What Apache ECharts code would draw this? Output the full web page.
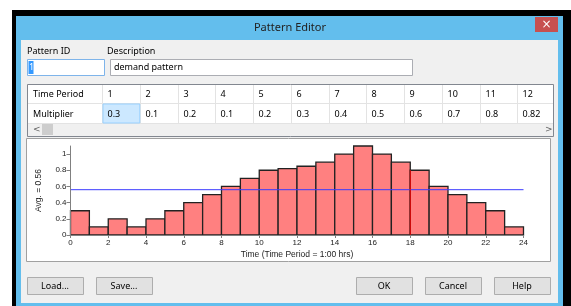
<!DOCTYPE html>
<html>
<head>
<meta charset="utf-8">
<script src="https://cdn.jsdelivr.net/npm/echarts@6/dist/echarts.min.js"></script>
<style>
    html, body { margin: 0; padding: 0; background: #fff; }
    #main { width: 571px; height: 306px; }
</style>
</head>
<body>
<div id="main"></div>
<script>
// pattern multipliers, one per hour (period 1..24)
const multipliers = [0.3, 0.1, 0.2, 0.1, 0.2, 0.3, 0.4, 0.5, 0.6, 0.7, 0.8, 0.82,
    0.85, 0.9, 1.0, 1.1, 1.0, 0.9, 0.8, 0.6, 0.5, 0.4, 0.3, 0.1];
// periods visible in the grid
const visiblePeriods = ['1', '2', '3', '4', '5', '6', '7', '8', '9', '10', '11', '12'];
const avgMultiplier = 0.56;
const markerTime = 18;
const yTickValues = [0, 0.2, 0.4, 0.6, 0.8, 1];
const buttonLabels = ['Load...', 'Save...', 'OK', 'Cancel', 'Help'];

const uiFont = 'Noto Sans';
const chartFont = 'Liberation Sans';

const chart = echarts.init(document.getElementById('main'), null, { renderer: 'canvas' });

// dialog chrome
let g = [];
function rect(x, y, w, h, fill, stroke, z) {
    g.push({
        type: 'rect', z: z === undefined ? -10 : z, silent: true,
        shape: { x: x, y: y, width: w, height: h },
        style: { fill: fill, stroke: stroke || null, lineWidth: 1 }
    });
}
function text(x, y, s, opt) {
    opt = opt || {};
    g.push({
        type: 'text', z: 20, silent: true, x: x, y: y,
        style: {
            text: s, fill: opt.color || '#000',
            font: (opt.size || 9) + 'px "' + (opt.font || uiFont) + '"',
            align: opt.align || 'left', verticalAlign: 'middle'
        }
    });
}

rect(12, 10, 559, 296, '#000');            // black frame
rect(16, 16, 547, 290, '#63beed');         // blue window border
rect(21, 40, 537, 263, '#f0f0f0');         // client area
rect(535, 17, 23, 15, '#c75050', null, -9);
text(546.5, 24.5, '×', { color: '#fff', size: 12, font: 'DejaVu Sans', align: 'center' });
text(290, 28, 'Pattern Editor', { color: '#222', size: 11, align: 'center' });

// ID / description fields
text(27, 51, 'Pattern ID');
text(107, 51, 'Description');
rect(27.5, 59.5, 77, 16, '#fff', '#7eb4ea', -8);
rect(28.5, 61, 5, 13, '#3399ff', null, -7);
text(29, 67.5, '1', { color: '#fff' });
rect(110.5, 59.5, 302, 16, '#fff', '#abadb3', -8);
text(114, 67.5, 'demand pattern');

// grid of periods
const tX = 27, tY = 84, tW = 526, row1 = 19, row2 = 20;
const firstColW = 75, colW = 37.75;
rect(tX + 0.5, tY + 0.5, tW, 52, '#f0f0f0', '#828790', -8);
rect(tX + 1, tY + 1, tW - 1, row1 + row2 - 1, '#fff', null, -7);
g.push({ type: 'line', z: -6, silent: true, shape: { x1: tX + 1, y1: tY + row1 + 0.5, x2: tX + tW, y2: tY + row1 + 0.5 }, style: { stroke: '#e3e3e3' } });
g.push({ type: 'line', z: -6, silent: true, shape: { x1: tX + 1, y1: tY + row1 + row2 + 0.5, x2: tX + tW, y2: tY + row1 + row2 + 0.5 }, style: { stroke: '#e3e3e3' } });
text(tX + 6, tY + row1 / 2 + 1, 'Time Period');
text(tX + 6, tY + row1 + row2 / 2 + 1, 'Multiplier');
visiblePeriods.forEach(function (p, i) {
    const cx = Math.round(tX + firstColW + i * colW) + 0.5;
    g.push({ type: 'line', z: -6, silent: true, shape: { x1: cx, y1: tY + 1, x2: cx, y2: tY + row1 + row2 }, style: { stroke: '#e3e3e3' } });
    if (i === 0) {
        rect(cx + 0.5, tY + row1 + 1, colW - 1, row2 - 1, '#cce8ff', '#99d1ff', -5);
    }
    text(cx + 5, tY + row1 / 2 + 1, p);
    text(cx + 5, tY + row1 + row2 / 2 + 1, String(multipliers[i]));
});
// scrollbar
rect(42, tY + row1 + row2 + 1, 11, 11, '#cdcdcd', null, -5);
text(33, tY + row1 + row2 + 7, '<', { color: '#606060', size: 9, font: 'DejaVu Sans' });
text(545, tY + row1 + row2 + 7, '>', { color: '#606060', size: 9, font: 'DejaVu Sans' });

// chart panel
rect(26.5, 138.5, 524, 123, '#fff', '#a0a0a0', -8);

// buttons
const btnX = [27, 96, 356, 425, 494];
buttonLabels.forEach(function (b, i) {
    rect(btnX[i] + 0.5, 277.5, 56, 17, '#e1e1e1', '#adadad', -8);
    text(btnX[i] + 28, 286.5, b, { align: 'center' });
});

const barData = multipliers.map(function (v, i) { return [i, v]; });

const option = {
    animation: false,
    backgroundColor: '#fff',
    graphic: g,
    grid: { left: 70.5, right: 47.5, top: 146, bottom: 71 },
    xAxis: {
        type: 'value', min: 0, max: 24, interval: 2, z: 5,
        name: 'Time (Time Period = 1:00 hrs)',
        nameLocation: 'middle', nameGap: 15,
        nameTextStyle: { color: '#222', fontFamily: chartFont, fontSize: 8.5 },
        axisLine: { show: true, lineStyle: { color: '#808080' } },
        axisTick: { show: true, length: 3, lineStyle: { color: '#808080' } },
        axisLabel: { color: '#222', fontFamily: chartFont, fontSize: 8, margin: 4 },
        splitLine: { show: false }
    },
    yAxis: {
        type: 'value', min: 0, max: 1.1, z: 5,
        name: 'Avg. = ' + avgMultiplier,
        nameLocation: 'middle', nameGap: 27,
        nameTextStyle: { color: '#222', fontFamily: chartFont, fontSize: 8.5 },
        axisLine: { show: true, lineStyle: { color: '#808080' } },
        axisTick: { show: true, length: 4, customValues: yTickValues, lineStyle: { color: '#808080' } },
        axisLabel: { color: '#222', fontFamily: chartFont, fontSize: 8, margin: 4, customValues: yTickValues },
        splitLine: { show: false }
    },
    series: [
        {
            type: 'custom',
            z: 3,
            data: barData,
            renderItem: function (params, api) {
                const i = api.value(0);
                const v = api.value(1);
                const p0 = api.coord([i, v]);
                const p1 = api.coord([i + 1, 0]);
                return {
                    type: 'rect',
                    shape: { x: p0[0], y: p0[1], width: p1[0] - p0[0], height: p1[1] - p0[1] },
                    style: { fill: '#ff8080', stroke: '#222', lineWidth: 1.3 }
                };
            }
        },
        {
            type: 'line', z: 4, symbol: 'none', silent: true,
            data: [[0, avgMultiplier], [24, avgMultiplier]],
            lineStyle: { color: '#3a3aff', width: 1 }
        },
        {
            // highlighted period boundary
            type: 'line', z: 4, symbol: 'none', silent: true,
            data: [[markerTime, 0], [markerTime, multipliers[markerTime]]],
            lineStyle: { color: '#ff0000', width: 1 }
        }
    ]
};

chart.setOption(option);
</script>
</body>
</html>
